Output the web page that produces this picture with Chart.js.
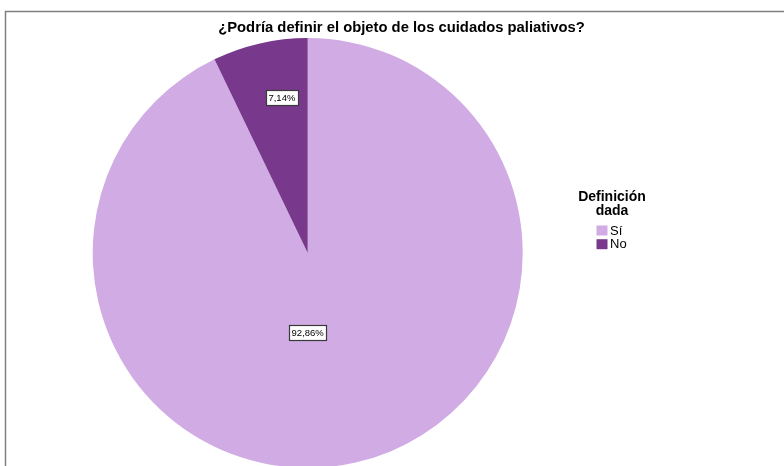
<!DOCTYPE html>
<html>
<head>
<meta charset="utf-8">
<script src="https://cdn.jsdelivr.net/npm/chart.js@4"></script>
<style>
  html, body { margin: 0; padding: 0; background: #fff; overflow: hidden; }
  #wrap { position: relative; width: 784px; height: 480px; }
</style>
</head>
<body>
<div id="wrap"><canvas id="pieChart" width="784" height="480"></canvas></div>
<script>
// ===== Data =====
const chartTitle = '¿Podría definir el objeto de los cuidados paliativos?';
const legendTitle = ['Definición', 'dada'];
const categories = ['Sí', 'No'];
const percentages = [92.86, 7.14];
const sliceColors = ['#d1abe4', '#78388c'];

// label spot for each slice: angle in degrees (0 = right, clockwise) and share of the radius
const labelSpots = [{ deg: 90, r: 0.37 }, { deg: -99.4, r: 0.735 }];

const fmtPct = v => v.toFixed(2).replace('.', ',') + '%';

// frame, title, value boxes and legend drawn on top of the pie
const decorations = {
  id: 'decorations',
  afterDraw(chart) {
    const ctx = chart.ctx;
    const meta = chart.getDatasetMeta(0);
    const arc0 = meta.data[0];
    const cx = arc0.x, cy = arc0.y, R = arc0.outerRadius;

    ctx.save();
    // outer frame
    ctx.strokeStyle = '#7f7f7f';
    ctx.lineWidth = 1.5;
    ctx.beginPath();
    ctx.moveTo(5.5, 480);
    ctx.lineTo(5.5, 11.5);
    ctx.lineTo(790, 11.5);
    ctx.stroke();

    // title
    ctx.fillStyle = '#000';
    ctx.font = 'bold 14.8px "Liberation Sans", Arial, sans-serif';
    ctx.textAlign = 'center';
    ctx.textBaseline = 'alphabetic';
    ctx.fillText(chartTitle, 401.5, 31.5);

    // value boxes
    ctx.font = '9.5px "Liberation Sans", Arial, sans-serif';
    ctx.textBaseline = 'middle';
    percentages.forEach((v, i) => {
      const a = labelSpots[i].deg * Math.PI / 180;
      const x = cx + Math.cos(a) * R * labelSpots[i].r;
      const y = cy + Math.sin(a) * R * labelSpots[i].r;
      const txt = fmtPct(v);
      const w = ctx.measureText(txt).width + 5;
      const h = 15;
      ctx.fillStyle = '#fff';
      ctx.fillRect(Math.round(x - w / 2) + 0.5, Math.round(y - h / 2) + 0.5, Math.round(w), h);
      ctx.strokeStyle = '#3a3a3a';
      ctx.lineWidth = 1.2;
      ctx.strokeRect(Math.round(x - w / 2) + 0.5, Math.round(y - h / 2) + 0.5, Math.round(w), h);
      ctx.fillStyle = '#000';
      ctx.fillText(txt, x, y + 1);
    });

    // legend
    ctx.font = 'bold 14px "Liberation Sans", Arial, sans-serif';
    ctx.textAlign = 'center';
    ctx.textBaseline = 'alphabetic';
    legendTitle.forEach((t, i) => ctx.fillText(t, 612, 200.5 + i * 14));
    ctx.font = '13px "Liberation Sans", Arial, sans-serif';
    ctx.textAlign = 'left';
    categories.forEach((c, i) => {
      const y = 225.5 + i * 13.7;
      ctx.fillStyle = sliceColors[i];
      ctx.fillRect(596.5, y, 11, 10);
      ctx.fillStyle = '#000';
      ctx.fillText(c, 610, y + 9);
    });
    ctx.restore();
  }
};

new Chart(document.getElementById('pieChart'), {
  type: 'pie',
  data: {
    labels: categories,
    datasets: [{
      data: percentages,
      backgroundColor: sliceColors,
      borderWidth: 0
    }]
  },
  options: {
    responsive: false,
    animation: false,
    layout: { padding: { top: 38, bottom: 12, left: 92.7, right: 261.3 } },
    plugins: {
      legend: { display: false },
      title: { display: false },
      tooltip: { enabled: false }
    }
  },
  plugins: [decorations]
});
</script>
</body>
</html>
